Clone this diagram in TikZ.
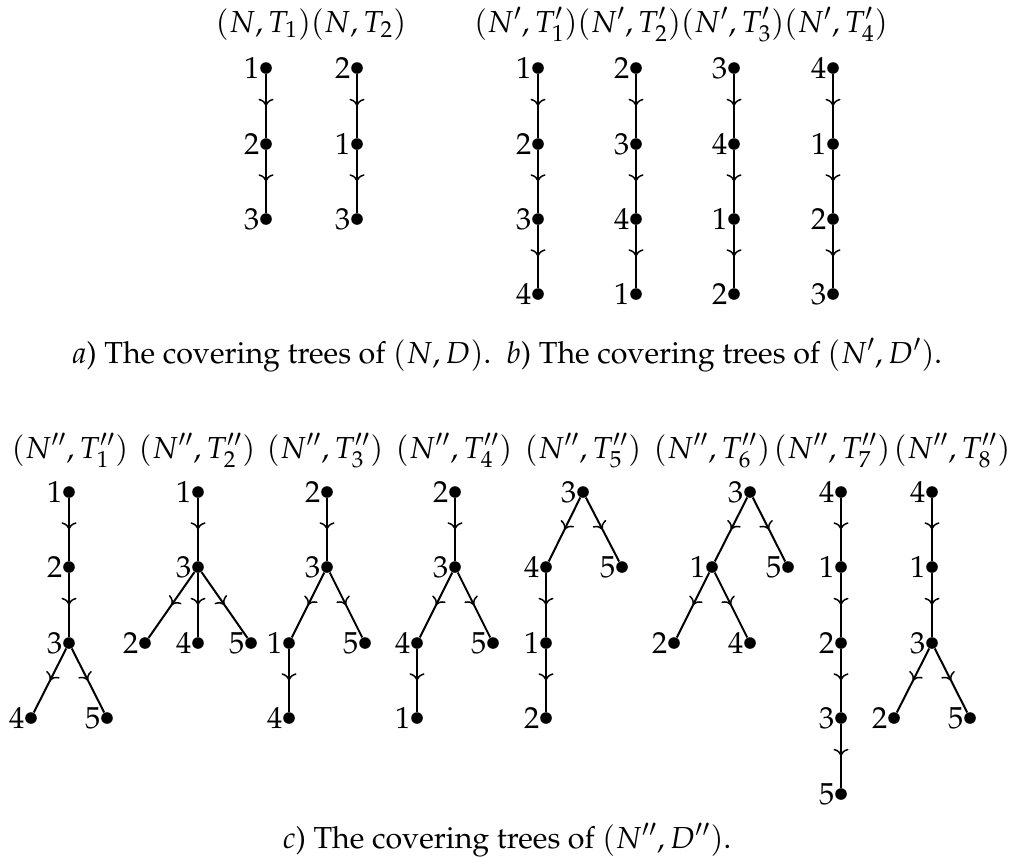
\documentclass[tikz,border=0pt]{standalone}
\usepackage[T1]{fontenc}
\usepackage{mathpazo}
\usetikzlibrary{arrows.meta,decorations.markings}
\tikzset{
  dot/.style={circle,fill=black,inner sep=0pt,minimum size=5.8pt},
  edge/.style={line width=1pt,postaction={decorate},
    decoration={markings,mark=at position 0.5 with {\arrow{To[length=3.6pt,width=7.5pt,line width=0.75pt]}}}},
  ttl/.style={anchor=base,inner sep=0pt},
}
\newcommand{\vx}[4]{\node[dot,label={[inner sep=0pt,label distance=0pt]left:#4}] (#1) at (#2,#3) {};}
\begin{document}
\begin{tikzpicture}[x=0.5pt,y=-0.5pt,font=\fontsize{15.2}{18}\selectfont]
\useasboundingbox (0,0) rectangle (1015,859);
% titles
\node[ttl] (ta) at (311,32) {$(N,T_1)(N,T_2)$};
\node[ttl] (tb) at (681,32) {$(N',T'_1)(N',T'_2)(N',T'_3)(N',T'_4)$};
% part a
\vx{a11}{266}{68}{1}\vx{a12}{266}{144}{2}\vx{a13}{266}{219}{3}
\draw[edge] (a11)--(a12); \draw[edge] (a12)--(a13);
\vx{a21}{357}{68}{2}\vx{a22}{357}{144}{1}\vx{a23}{357}{219}{3}
\draw[edge] (a21)--(a22); \draw[edge] (a22)--(a23);
% part b
\vx{b11}{538}{68}{1}\vx{b12}{538}{144}{2}\vx{b13}{538}{219}{3}\vx{b14}{538}{294}{4}
\draw[edge] (b11)--(b12); \draw[edge] (b12)--(b13); \draw[edge] (b13)--(b14);
\vx{b21}{636}{68}{2}\vx{b22}{636}{144}{3}\vx{b23}{636}{219}{4}\vx{b24}{636}{294}{1}
\draw[edge] (b21)--(b22); \draw[edge] (b22)--(b23); \draw[edge] (b23)--(b24);
\vx{b31}{734}{68}{3}\vx{b32}{734}{144}{4}\vx{b33}{734}{219}{1}\vx{b34}{734}{294}{2}
\draw[edge] (b31)--(b32); \draw[edge] (b32)--(b33); \draw[edge] (b33)--(b34);
\vx{b41}{833}{68}{4}\vx{b42}{833}{144}{1}\vx{b43}{833}{219}{2}\vx{b44}{833}{294}{3}
\draw[edge] (b41)--(b42); \draw[edge] (b42)--(b43); \draw[edge] (b43)--(b44);
\node[ttl] (capab) at (507,363) {$a$) The covering trees of $(N,D)$.\enspace $b$) The covering trees of $(N',D')$.};
% part c titles
\node[ttl] (t1) at (70,458) {$(N'',T''_1)$};
\node[ttl] (t2) at (197,458) {$(N'',T''_2)$};
\node[ttl] (t3) at (325,458) {$(N'',T''_3)$};
\node[ttl] (t4) at (454,458) {$(N'',T''_4)$};
\node[ttl] (t5) at (583,458) {$(N'',T''_5)$};
\node[ttl] (t6) at (712,458) {$(N'',T''_6)$};
\node[ttl] (t7) at (832,458) {$(N'',T''_7)$};
\node[ttl] (t8) at (952,458) {$(N'',T''_8)$};
% T1''
\vx{c11}{69}{492}{1}\vx{c12}{69}{567}{2}\vx{c13}{69}{643}{3}\vx{c14}{31}{718}{4}\vx{c15}{107}{718}{5}
\draw[edge] (c11)--(c12); \draw[edge] (c12)--(c13); \draw[edge] (c13)--(c14); \draw[edge] (c13)--(c15);
% T2''
\vx{c21}{198}{492}{1}\vx{c23}{198}{567}{3}\vx{c22}{145}{643}{2}\vx{c24}{198}{643}{4}\vx{c25}{251}{643}{5}
\draw[edge] (c21)--(c23); \draw[edge] (c23)--(c22); \draw[edge] (c23)--(c24); \draw[edge] (c23)--(c25);
% T3''
\vx{c32}{327}{492}{2}\vx{c33}{327}{567}{3}\vx{c31}{289}{643}{1}\vx{c35}{365}{643}{5}\vx{c34}{289}{718}{4}
\draw[edge] (c32)--(c33); \draw[edge] (c33)--(c31); \draw[edge] (c33)--(c35); \draw[edge] (c31)--(c34);
% T4''
\vx{c42}{455}{492}{2}\vx{c43}{455}{567}{3}\vx{c44}{417}{643}{4}\vx{c45}{493}{643}{5}\vx{c41}{417}{718}{1}
\draw[edge] (c42)--(c43); \draw[edge] (c43)--(c44); \draw[edge] (c43)--(c45); \draw[edge] (c44)--(c41);
% T5''
\vx{c53}{583}{492}{3}\vx{c54}{546}{567}{4}\vx{c55}{622}{567}{5}\vx{c51}{546}{643}{1}\vx{c52}{546}{718}{2}
\draw[edge] (c53)--(c54); \draw[edge] (c53)--(c55); \draw[edge] (c54)--(c51); \draw[edge] (c51)--(c52);
% T6''
\vx{c63}{750}{492}{3}\vx{c61}{712}{567}{1}\vx{c65}{788}{567}{5}\vx{c62}{674}{643}{2}\vx{c64}{750}{643}{4}
\draw[edge] (c63)--(c61); \draw[edge] (c63)--(c65); \draw[edge] (c61)--(c62); \draw[edge] (c61)--(c64);
% T7''
\vx{c74}{841}{492}{4}\vx{c71}{841}{567}{1}\vx{c72}{841}{643}{2}\vx{c73}{841}{718}{3}\vx{c75}{841}{794}{5}
\draw[edge] (c74)--(c71); \draw[edge] (c71)--(c72); \draw[edge] (c72)--(c73); \draw[edge] (c73)--(c75);
% T8''
\vx{c84}{932}{492}{4}\vx{c81}{932}{567}{1}\vx{c83}{932}{643}{3}\vx{c82}{894}{718}{2}\vx{c85}{970}{718}{5}
\draw[edge] (c84)--(c81); \draw[edge] (c81)--(c83); \draw[edge] (c83)--(c82); \draw[edge] (c83)--(c85);
\node[ttl] (capc) at (507,848) {$c$) The covering trees of $(N'',D'')$.};
\end{tikzpicture}
\end{document}
